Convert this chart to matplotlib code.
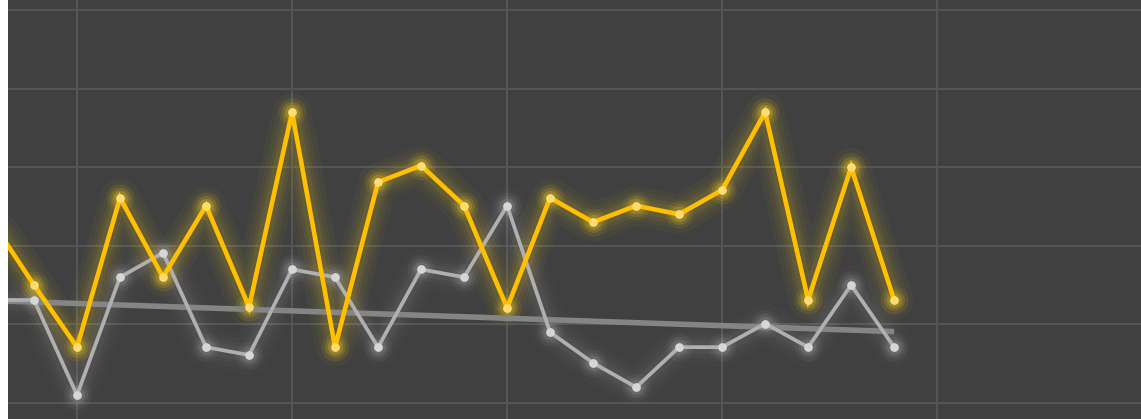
import numpy as np
import matplotlib
matplotlib.use("Agg")
import matplotlib.pyplot as plt

# x positions are sample indices (5 samples per vertical grid step)
idx = list(range(-2, 20))
yellow = [2.33, 1.50, 0.71, 2.61, 1.60, 2.51, 1.22, 3.70, 0.71, 2.81, 3.02,
          2.51, 1.21, 2.61, 2.30, 2.51, 2.40, 2.71, 3.70, 1.31, 3.00, 1.31]
grey = [1.31, 1.31, 0.10, 1.60, 1.91, 0.71, 0.61, 1.70, 1.60, 0.71, 1.70,
        1.60, 2.51, 0.90, 0.51, 0.20, 0.71, 0.71, 1.01, 0.71, 1.50, 0.71]

BG = "#404040"
GRID = "#555555"


def glow_line(ax, x, y, color, mcolor, glow, lw, ms, strength):
    # fake glow: stack of wide transparent strokes under the real line
    for w, a in [(28, 0.035), (21, 0.045), (15, 0.06), (10, 0.08)]:
        ax.plot(x, y, color=glow, lw=w, alpha=a * strength,
                solid_capstyle="round", solid_joinstyle="round", zorder=2)
    for s, a in [(20, 0.08), (15, 0.12), (11, 0.18)]:
        ax.plot(x, y, ls="none", marker="o", ms=s, color=glow,
                alpha=a * strength, markeredgewidth=0, zorder=3)
    ax.plot(x, y, color=color, lw=lw, solid_joinstyle="miter", zorder=4)
    ax.plot(x, y, ls="none", marker="o", ms=ms, color=mcolor,
            markeredgewidth=0, zorder=5)


fig = plt.figure(figsize=(11.41, 4.19), dpi=100, facecolor="white")
ax = fig.add_axes([8 / 1141, 0, 1133 / 1141, 1])
ax.set_facecolor(BG)

# trend line of the grey series
k, b = np.polyfit(idx, grey, 1)
tx = np.array([idx[0], idx[-1]])
ax.plot(tx, k * tx + b, color="#858585", lw=4.0, zorder=3.5,
        solid_capstyle="butt")

glow_line(ax, idx, grey, "#b0b0b0", "#d6d6d6", "#d0d0d0", 2.7, 6.3, 0.6)
glow_line(ax, idx, yellow, "#ffc000", "#ffdc70", "#ffd21a", 3.3, 6.3, 1.0)

ax.set_xlim(-1.605, 24.74)
ax.set_ylim(-0.204, 5.127)
ax.set_xticks([0, 5, 10, 15, 20])
ax.set_yticks([0, 1, 2, 3, 4, 5])
ax.grid(True, color=GRID, lw=1.5, zorder=0)
ax.set_axisbelow(True)
ax.tick_params(length=0, labelleft=False, labelbottom=False)
for sp in ax.spines.values():
    sp.set_visible(False)

fig.savefig("out.png", dpi=100, facecolor="white")
